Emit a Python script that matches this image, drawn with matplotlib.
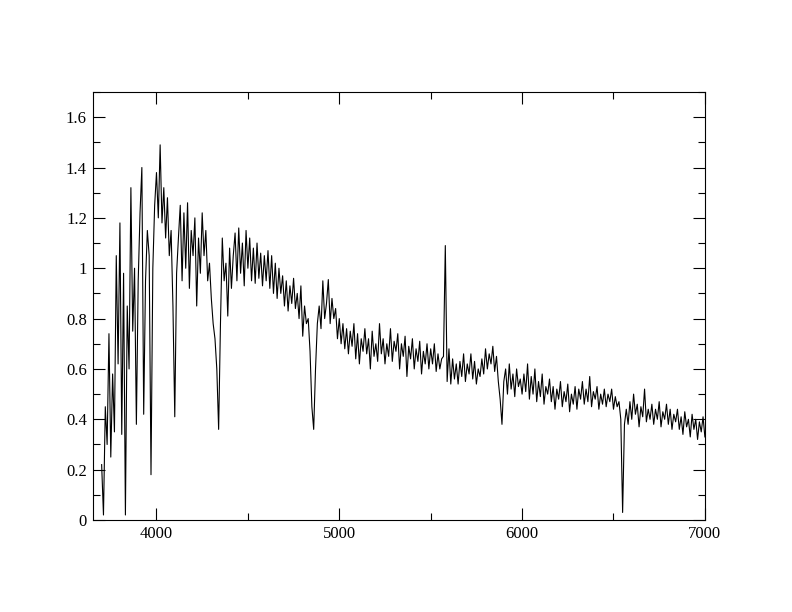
import numpy as np
import matplotlib
matplotlib.use("Agg")
import matplotlib.pyplot as plt
from matplotlib.ticker import MultipleLocator, FuncFormatter

# Wavelength sampling grid (Angstrom), 10 A steps
wavelength = np.arange(3700, 7001, 10)

# Flux values, one row per 100 A
flux = [
    0.22, 0.02, 0.45, 0.30, 0.74, 0.25, 0.58, 0.35, 1.05, 0.62,   # 3700
    1.18, 0.34, 0.98, 0.02, 0.85, 0.60, 1.32, 0.75, 1.00, 0.38,   # 3800
    0.95, 1.22, 1.40, 0.42, 0.95, 1.15, 1.05, 0.18, 1.00, 1.25,   # 3900
    1.38, 1.20, 1.49, 1.18, 1.32, 1.12, 1.28, 1.05, 1.15, 0.85,   # 4000
    0.41, 0.98, 1.12, 1.25, 0.95, 1.22, 1.00, 1.26, 0.92, 1.15,   # 4100
    1.05, 1.20, 0.85, 1.12, 0.98, 1.22, 1.05, 1.15, 0.95, 1.02,   # 4200
    0.88, 0.78, 0.72, 0.60, 0.36, 0.78, 1.12, 0.95, 1.02, 0.81,   # 4300
    1.08, 0.92, 1.05, 1.14, 0.95, 1.16, 0.98, 1.10, 0.93, 1.15,   # 4400
    1.00, 1.12, 0.95, 1.08, 0.94, 1.10, 0.96, 1.06, 0.93, 1.05,   # 4500
    0.95, 1.07, 0.92, 1.05, 0.90, 1.02, 0.88, 1.00, 0.90, 0.97,   # 4600
    0.85, 0.95, 0.83, 0.93, 0.86, 0.96, 0.84, 0.90, 0.80, 0.93,   # 4700
    0.73, 0.85, 0.78, 0.80, 0.67, 0.45, 0.36, 0.60, 0.78, 0.85,   # 4800
    0.76, 0.95, 0.80, 0.86, 0.955, 0.78, 0.88, 0.80, 0.84, 0.72,  # 4900
    0.80, 0.70, 0.78, 0.68, 0.76, 0.66, 0.75, 0.69, 0.78, 0.64,   # 5000
    0.74, 0.62, 0.72, 0.67, 0.76, 0.66, 0.72, 0.60, 0.75, 0.65,   # 5100
    0.70, 0.63, 0.78, 0.66, 0.72, 0.62, 0.70, 0.65, 0.76, 0.63,   # 5200
    0.71, 0.67, 0.74, 0.60, 0.70, 0.65, 0.73, 0.57, 0.69, 0.64,   # 5300
    0.72, 0.60, 0.68, 0.63, 0.71, 0.58, 0.67, 0.62, 0.70, 0.60,   # 5400
    0.68, 0.62, 0.70, 0.59, 0.66, 0.60, 0.64, 0.65, 1.09, 0.55,   # 5500
    0.68, 0.54, 0.64, 0.56, 0.62, 0.54, 0.63, 0.57, 0.66, 0.55,   # 5600
    0.62, 0.58, 0.66, 0.56, 0.63, 0.54, 0.60, 0.57, 0.64, 0.58,   # 5700
    0.68, 0.60, 0.66, 0.62, 0.69, 0.59, 0.65, 0.55, 0.48, 0.38,   # 5800
    0.55, 0.60, 0.50, 0.62, 0.52, 0.58, 0.49, 0.60, 0.53, 0.56,   # 5900
    0.50, 0.58, 0.51, 0.62, 0.48, 0.57, 0.50, 0.60, 0.47, 0.55,   # 6000
    0.49, 0.58, 0.46, 0.53, 0.50, 0.56, 0.47, 0.53, 0.44, 0.52,   # 6100
    0.48, 0.55, 0.45, 0.51, 0.47, 0.54, 0.43, 0.50, 0.46, 0.53,   # 6200
    0.44, 0.52, 0.48, 0.55, 0.46, 0.52, 0.47, 0.57, 0.45, 0.51,   # 6300
    0.48, 0.53, 0.44, 0.50, 0.46, 0.52, 0.45, 0.50, 0.47, 0.52,   # 6400
    0.44, 0.49, 0.45, 0.47, 0.40, 0.03, 0.38, 0.44, 0.38, 0.47,   # 6500
    0.40, 0.50, 0.42, 0.46, 0.37, 0.45, 0.41, 0.52, 0.39, 0.44,   # 6600
    0.40, 0.46, 0.38, 0.44, 0.40, 0.47, 0.37, 0.43, 0.40, 0.46,   # 6700
    0.38, 0.44, 0.36, 0.42, 0.39, 0.44, 0.36, 0.41, 0.34, 0.43,   # 6800
    0.37, 0.40, 0.33, 0.42, 0.36, 0.40, 0.32, 0.39, 0.35, 0.41,   # 6900
    0.33,                                                         # 7000
]

x_ticks = [4000, 5000, 6000, 7000]
y_ticks = [0, 0.2, 0.4, 0.6, 0.8, 1, 1.2, 1.4, 1.6]

plt.rcParams['font.family'] = ['Liberation Serif', 'DejaVu Serif']

fig = plt.figure(figsize=(7.92, 6.12), dpi=100)
ax = fig.add_axes([0.1168, 0.1503, 0.8732 - 0.1168 + 0.0168, 0.6994])

ax.plot(wavelength, flux, color='black', linewidth=0.8)

ax.set_xlim(3650, 7000)
ax.set_ylim(0, 1.7)
ax.set_xticks(x_ticks)
ax.set_yticks(y_ticks)
ax.xaxis.set_minor_locator(MultipleLocator(500))
ax.yaxis.set_minor_locator(MultipleLocator(0.1))
ax.yaxis.set_major_formatter(FuncFormatter(lambda v, p: '%g' % v))
ax.xaxis.set_major_formatter(FuncFormatter(lambda v, p: '%g' % v))

ax.tick_params(which='both', direction='in', top=True, right=True,
               labelsize=12, width=0.8)
ax.tick_params(which='major', length=8.5, pad=4)
ax.tick_params(which='minor', length=5)
for s in ax.spines.values():
    s.set_linewidth(0.8)

fig.savefig('out.png', dpi=100)
